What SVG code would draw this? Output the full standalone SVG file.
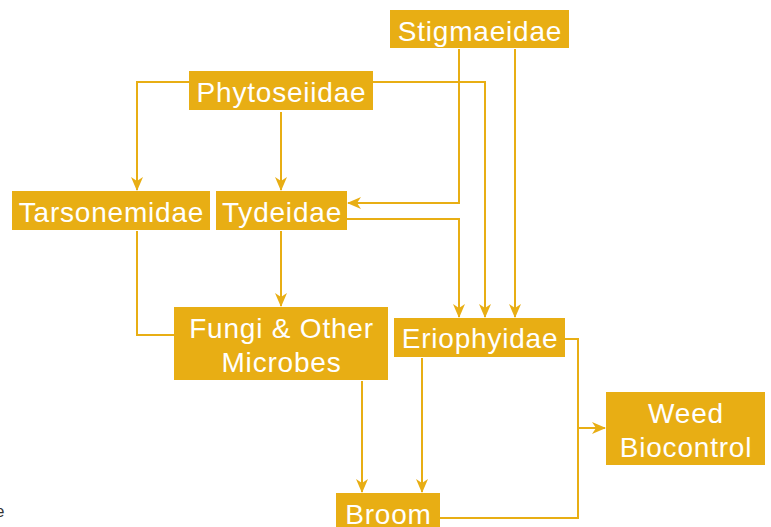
<svg xmlns="http://www.w3.org/2000/svg" width="771" height="527" viewBox="0 0 771 527">
  <defs>
    <style>
      .box { fill: #E8AE14; }
      .lbl { font-family: "Liberation Sans", Arial, sans-serif; font-size: 28px; letter-spacing: 0.8px; fill: #ffffff; text-anchor: middle; }
      .edge { fill: none; stroke: #E8AE14; stroke-width: 2; }
      .frag { font-family: "Liberation Sans", Arial, sans-serif; font-size: 16px; fill: #333333; text-anchor: end; }
    </style>
    <marker id="arr" viewBox="0 0 14 14" refX="13" refY="7" markerWidth="14" markerHeight="14" markerUnits="userSpaceOnUse" orient="auto">
      <path d="M0,1 L14,7 L0,13 L4,7 z" fill="#E8AE14"/>
    </marker>
  </defs>
  <rect width="771" height="527" fill="#ffffff"/>

  <g id="connectors">
    <polyline class="edge" points="189,82 137,82 137,190" marker-end="url(#arr)"/>
    <polyline class="edge" points="281,112 281,190" marker-end="url(#arr)"/>
    <polyline class="edge" points="373,82 485,82 485,317" marker-end="url(#arr)"/>
    <polyline class="edge" points="459,49 459,203 348,203" marker-end="url(#arr)"/>
    <polyline class="edge" points="515,49 515,317" marker-end="url(#arr)"/>
    <polyline class="edge" points="347,219 459,219 459,317" marker-end="url(#arr)"/>
    <polyline class="edge" points="281,231 281,306" marker-end="url(#arr)"/>
    <polyline class="edge" points="137,231 137,335 174,335"/>
    <polyline class="edge" points="362,381 362,492" marker-end="url(#arr)"/>
    <polyline class="edge" points="422,358 422,492" marker-end="url(#arr)"/>
    <polyline class="edge" points="565,339 578,339 578,518 440,518"/>
    <polyline class="edge" points="578,428 605,428" marker-end="url(#arr)"/>
  </g>

  <g id="stigmaeidae">
    <rect class="box" x="390" y="10" width="179" height="38"/>
    <text class="lbl" x="480" y="40.5">Stigmaeidae</text>
  </g>
  <g id="phytoseiidae">
    <rect class="box" x="189" y="71" width="184" height="39"/>
    <text class="lbl" x="281.5" y="101.5">Phytoseiidae</text>
  </g>
  <g id="tarsonemidae">
    <rect class="box" x="12" y="191" width="198" height="39"/>
    <text class="lbl" x="111.5" y="221.5">Tarsonemidae</text>
  </g>
  <g id="tydeidae">
    <rect class="box" x="216" y="191" width="131" height="39"/>
    <text class="lbl" x="282" y="221.5">Tydeidae</text>
  </g>
  <g id="fungi">
    <rect class="box" x="174" y="307" width="214" height="73"/>
    <text class="lbl" x="281.5" y="338">Fungi &amp; Other</text>
    <text class="lbl" x="281.5" y="372">Microbes</text>
  </g>
  <g id="eriophyidae">
    <rect class="box" x="394" y="318" width="171" height="39"/>
    <text class="lbl" x="480" y="348">Eriophyidae</text>
  </g>
  <g id="weed">
    <rect class="box" x="606" y="392" width="159" height="73"/>
    <text class="lbl" x="686" y="423">Weed</text>
    <text class="lbl" x="686" y="457">Biocontrol</text>
  </g>
  <g id="broom">
    <rect class="box" x="336" y="493" width="104" height="40"/>
    <text class="lbl" x="388.5" y="523.5">Broom</text>
  </g>

  <text class="frag" x="4.5" y="517">e</text>
</svg>
